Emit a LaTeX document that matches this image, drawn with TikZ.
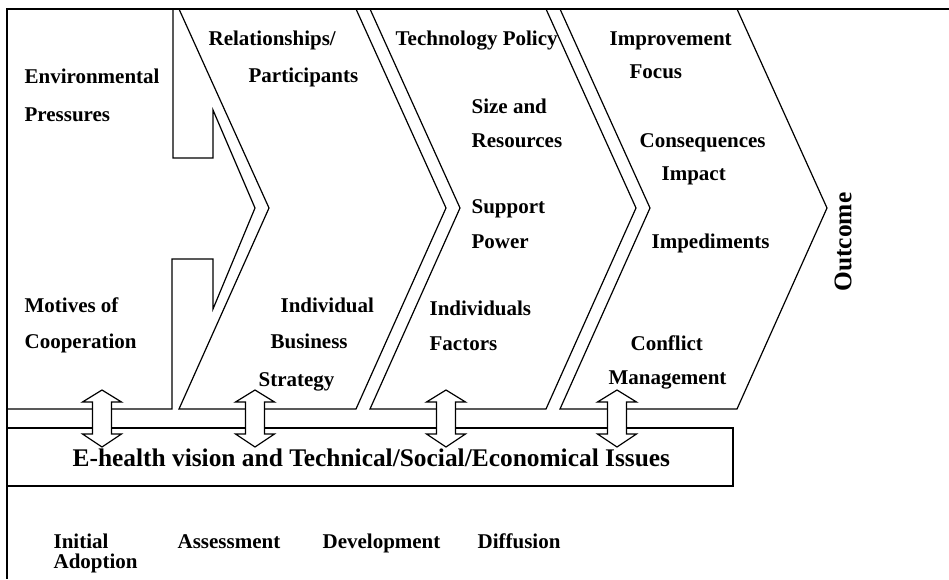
\documentclass[tikz,border=0pt]{standalone}
\usepackage{fontspec}
\setmainfont{Liberation Serif}

\begin{document}
\begin{tikzpicture}[x=1pt, y=-1pt, line width=1.2pt, line join=miter,
	lbl/.style={anchor=base west, inner sep=0pt, font=\fontsize{21}{25}\selectfont\bfseries},
	biglbl/.style={inner sep=0pt, font=\fontsize{25.4}{30}\selectfont\bfseries}]
	\useasboundingbox (0,0) rectangle (949,579);
	
	% outer frame
	\draw (949,9) -- (7,9) -- (7,579);
	
	% first block with the two notches
	\draw (173,9) -- (173,158) -- (213,158) -- (213,110) -- (255,208) -- (213,309)
		-- (213,259) -- (172,259) -- (172,409) -- (7,409);
	
	% chevrons
	\foreach \l/\r in {179/356, 370/546, 560/737}
		\draw (\l,9) -- (\l+90,208) -- (\l,409) -- (\r,409) -- (\r+90,208) -- (\r,9);
	
	% vision bar
	\draw (7,428) -- (733,428) -- (733,486) -- (7,486);
	
	% double arrows
	\foreach \x in {102,255,446,617}
		\draw [fill=white] (\x,390) -- (\x+19.5,402) -- (\x+9.5,402) -- (\x+9.5,434)
			-- (\x+19.5,434) -- (\x,447) -- (\x-19.5,434) -- (\x-9.5,434)
			-- (\x-9.5,402) -- (\x-19.5,402) -- cycle;
	
	% labels
	\node [lbl] (env1) at (24,83) {Environmental};
	\node [lbl] (env2) at (24,121) {Pressures};
	\node [lbl] (mot1) at (24,312) {Motives of};
	\node [lbl] (mot2) at (24,348) {Cooperation};
	
	\node [lbl] (rel1) at (208,45) {Relationships/};
	\node [lbl] (rel2) at (248,82) {Participants};
	\node [lbl] (ind1) at (280,312) {Individual};
	\node [lbl] (ind2) at (270,348) {Business};
	\node [lbl] (ind3) at (258,386) {Strategy};
	
	\node [lbl] (tec) at (395,45) {Technology Policy};
	\node [lbl] (siz1) at (471,113) {Size and};
	\node [lbl] (siz2) at (471,147) {Resources};
	\node [lbl] (sup1) at (471,213) {Support};
	\node [lbl] (sup2) at (471,248) {Power};
	\node [lbl] (fac1) at (429,315) {Individuals};
	\node [lbl] (fac2) at (429,350) {Factors};
	
	\node [lbl] (imp1) at (609,45) {Improvement};
	\node [lbl] (imp2) at (629,78) {Focus};
	\node [lbl] (con1) at (639,147) {Consequences};
	\node [lbl] (con2) at (661,180) {Impact};
	\node [lbl] (ped) at (651,248) {Impediments};
	\node [lbl] (cnf1) at (630,350) {Conflict};
	\node [lbl] (cnf2) at (608,384) {Management};
	
	\node [biglbl, rotate=90] (out) at (843,242) {Outcome};
	\node [biglbl, anchor=base west] (vis) at (72,466) {E-health vision and Technical/Social/Economical Issues};
	
	% phases
	\node [lbl] (ph1) at (53,548) {Initial};
	\node [lbl] (ph1b) at (53,568) {Adoption};
	\node [lbl] (ph2) at (177,548) {Assessment};
	\node [lbl] (ph3) at (322,548) {Development};
	\node [lbl] (ph4) at (477,548) {Diffusion};
\end{tikzpicture}
\end{document}
